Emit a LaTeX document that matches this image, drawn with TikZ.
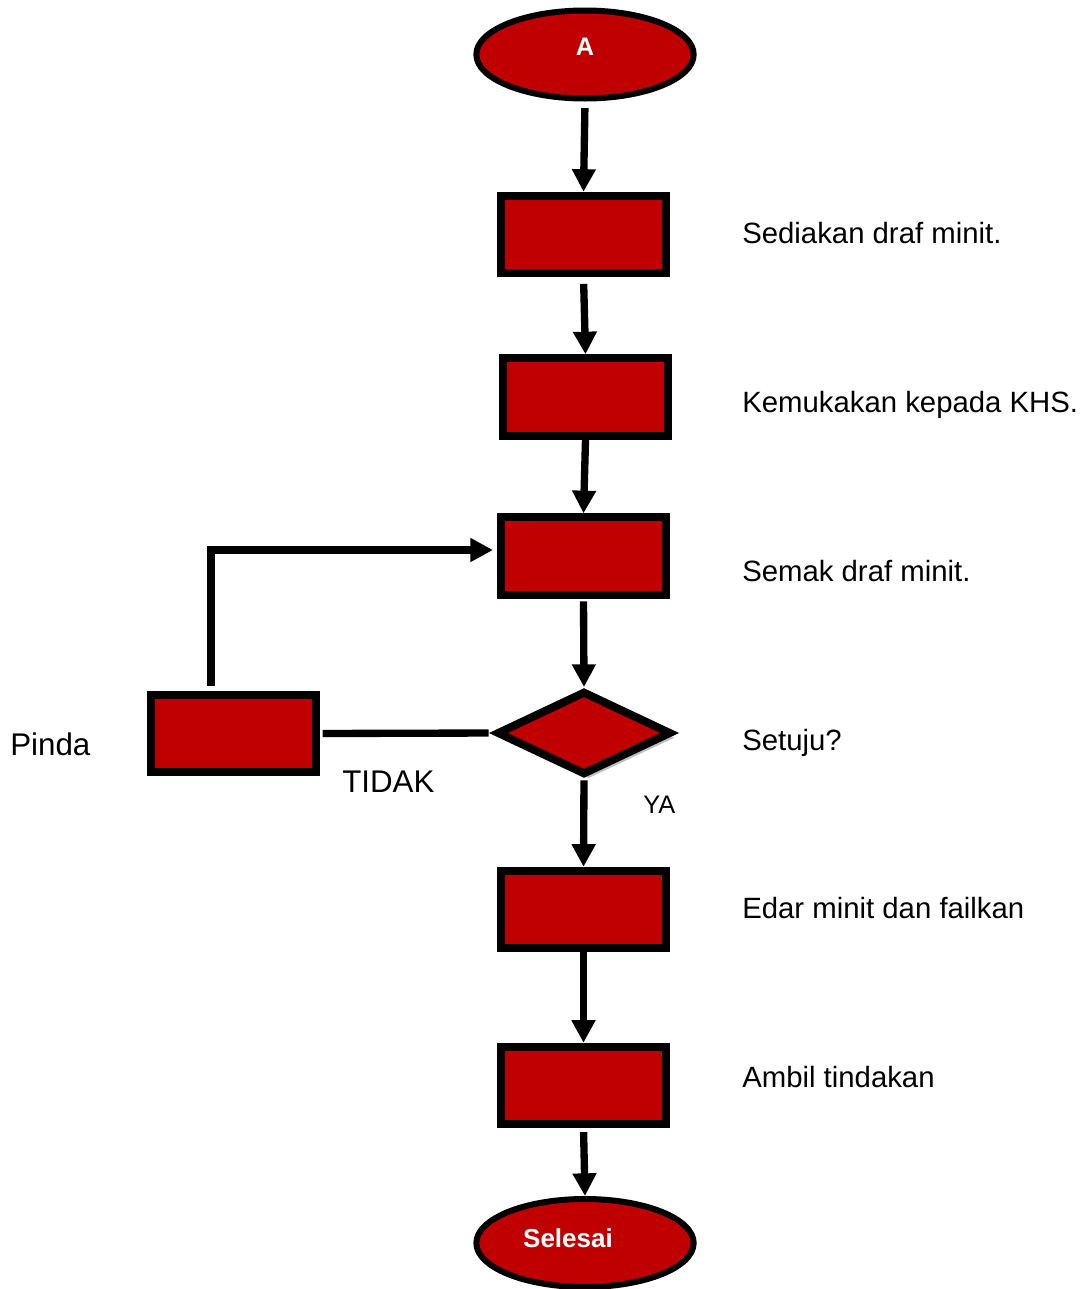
\documentclass[tikz,border=0pt]{standalone}
\usepackage{fontspec}
\setmainfont{Liberation Sans}
\usetikzlibrary{shapes.geometric,arrows.meta,shadows,calc}
\definecolor{boxred}{HTML}{C00000}
\begin{document}
\begin{tikzpicture}[x=0.75pt,y=-0.75pt,
  stepbox/.style={rectangle,draw=black,fill=boxred,line width=6pt,inner sep=0pt,
    minimum width=123.75pt,minimum height=58pt},
  term/.style={ellipse,draw=black,fill=boxred,line width=4.5pt,inner sep=0pt,
    minimum width=163pt,minimum height=66pt,text=white,font=\fontsize{20}{24}\selectfont\bfseries},
  decide/.style={diamond,draw=black,fill=boxred,line width=6pt,inner sep=0pt,
    minimum width=131pt,minimum height=63pt,
    drop shadow={shadow xshift=3.5pt,shadow yshift=-3.5pt,fill=black!25,opacity=1}},
  conn/.style={line width=5.5pt},
  arr/.style={conn,-{Triangle[length=17pt,width=17pt]}},
  lbl/.style={anchor=base west,inner sep=0pt,font=\fontsize{22}{26}\selectfont},
]
\useasboundingbox (0,0) rectangle (1081,1289);

\node[term] (A) at (585,54.5) {};
\node[anchor=base,inner sep=0pt,text=white,font=\fontsize{19}{22}\selectfont\bfseries] (tA) at (585,55) {A};
\node[stepbox] (b1) at (583.5,234.5) {};
\node[stepbox] (b2) at (585.5,397) {};
\node[stepbox] (b3) at (583.5,556) {};
\node[decide] (d) at (584,733) {};
\node[stepbox] (p) at (233.5,733.5) {};
\node[stepbox] (b5) at (583.5,909.5) {};
\node[stepbox] (b6) at (583.5,1085.5) {};
\node[term] (E) at (585,1243) {};
\node[anchor=base,inner sep=0pt,text=white,font=\fontsize{19.5}{22}\selectfont\bfseries] (tE) at (568,1247) {Selesai};

\draw[arr,shorten <=5pt] (A.south) -- (b1.north);
\draw[arr,shorten <=5pt] (b1.south) -- (b2.north);
\draw[arr] (b2.south) -- (b3.north);
\draw[arr,shorten <=2pt] (b3.south) -- (d.north);
\draw[arr,shorten <=1pt] (d.south) -- (b5.north);
\draw[arr] (b5.south) -- (b6.north);
\draw[arr,shorten <=3pt] (b6.south) -- (E.north);
\draw[conn,shorten <=3pt,shorten >=2pt] (d.west) -- (p.east);
\draw[arr,shorten <=4pt,shorten >=3pt] ($(p.north)+(-22.5,0)$) |- ($(b3.west)+(0,-6)$);

\node[lbl] (l1) at (742,243) {Sediakan draf minit.};
\node[lbl] (l2) at (742,412) {Kemukakan kepada KHS.};
\node[lbl] (l3) at (742,581) {Semak draf minit.};
\node[lbl] (l4) at (742,750) {Setuju?};
\node[lbl] (l5) at (742,918) {Edar minit dan failkan};
\node[lbl] (l6) at (742,1087) {Ambil tindakan};
\node[lbl,font=\fontsize{23.5}{28}\selectfont] (lp) at (10,755) {Pinda};
\node[lbl,font=\fontsize{23.5}{28}\selectfont] (lt) at (342,792) {TIDAK};
\node[lbl,font=\fontsize{19}{22}\selectfont] (ly) at (643,813) {YA};
\end{tikzpicture}
\end{document}
